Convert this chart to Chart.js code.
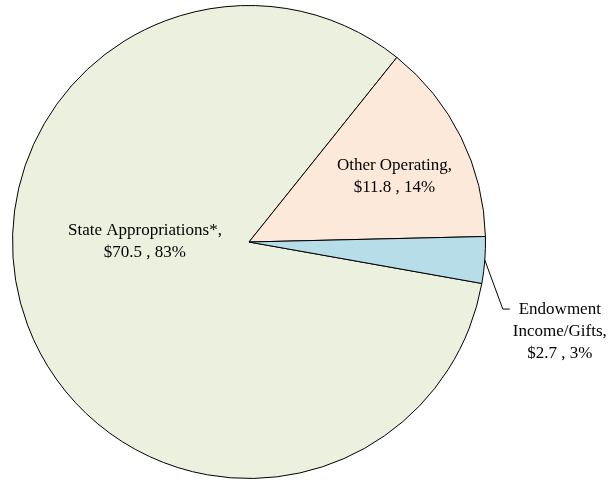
<!DOCTYPE html>
<html>
<head>
<meta charset="utf-8">
<script src="https://cdn.jsdelivr.net/npm/chart.js@4.4.0/dist/chart.umd.min.js"></script>
<style>
  html, body { margin: 0; padding: 0; background: #fff; }
  #wrap { width: 609px; height: 482px; position: relative; }
</style>
</head>
<body>
<div id="wrap"><canvas id="pie"></canvas></div>
<script>
// revenue sources, $ millions
const categories = ['State Appropriations*,', 'Other Operating,', 'Endowment Income/Gifts,'];
const amounts = [70.5, 11.8, 2.7];
const percents = ['83%', '14%', '3%'];
const sliceColors = ['#EBF1DE', '#FDE9D9', '#B7DEE8'];

// where each label sits: fraction of radius and angle shift (deg) from slice middle
const labelSpots = [
  { r: 0.44, shift: 20.6, lines: ['State Appropriations*,'] },
  { r: 0.675, shift: 2, lines: ['Other Operating,'] },
  { outside: true, lines: ['Endowment', 'Income/Gifts,'] }
];

const labelFont = '17px "Liberation Serif", "Times New Roman", serif';

const sliceLabels = {
  id: 'sliceLabels',
  afterDatasetsDraw(chart) {
    const ctx = chart.ctx;
    const meta = chart.getDatasetMeta(0);
    ctx.save();
    ctx.font = labelFont;
    ctx.fillStyle = '#000';
    ctx.strokeStyle = '#000';
    ctx.lineWidth = 1;
    ctx.textAlign = 'center';
    ctx.textBaseline = 'middle';
    meta.data.forEach((arc, i) => {
      const p = arc.getProps(['x', 'y', 'startAngle', 'endAngle', 'outerRadius'], true);
      const mid = (p.startAngle + p.endAngle) / 2;
      const spot = labelSpots[i];
      const lines = spot.lines.concat(['$' + amounts[i].toFixed(1) + ' , ' + percents[i]]);
      const lh = 22;
      let cx, cy;
      if (spot.outside) {
        // leader line from the rim out to the label
        const ex = p.x + Math.cos(mid) * p.outerRadius;
        const ey = p.y + Math.sin(mid) * p.outerRadius;
        const kx = ex + 18, ky = ey + 49;
        ctx.beginPath();
        ctx.moveTo(ex, ey);
        ctx.lineTo(kx, ky);
        ctx.lineTo(kx + 7, ky);
        ctx.stroke();
        cx = kx + 57;
        cy = ky + lh;
      } else {
        const a = mid + spot.shift * Math.PI / 180;
        cx = p.x + Math.cos(a) * p.outerRadius * spot.r;
        cy = p.y + Math.sin(a) * p.outerRadius * spot.r;
      }
      const top = cy - (lines.length - 1) * lh / 2;
      lines.forEach((t, j) => ctx.fillText(t, cx, top + j * lh));
    });
    ctx.restore();
  }
};

new Chart(document.getElementById('pie'), {
  type: 'pie',
  data: {
    labels: categories,
    datasets: [{
      data: amounts,
      backgroundColor: sliceColors,
      borderColor: '#000',
      borderWidth: 1
    }]
  },
  options: {
    responsive: true,
    maintainAspectRatio: false,
    animation: false,
    rotation: 100.1,
    layout: { padding: { left: 12, top: 5, right: 123, bottom: 3 } },
    plugins: {
      legend: { display: false },
      tooltip: { enabled: false }
    }
  },
  plugins: [sliceLabels]
});
</script>
</body>
</html>
